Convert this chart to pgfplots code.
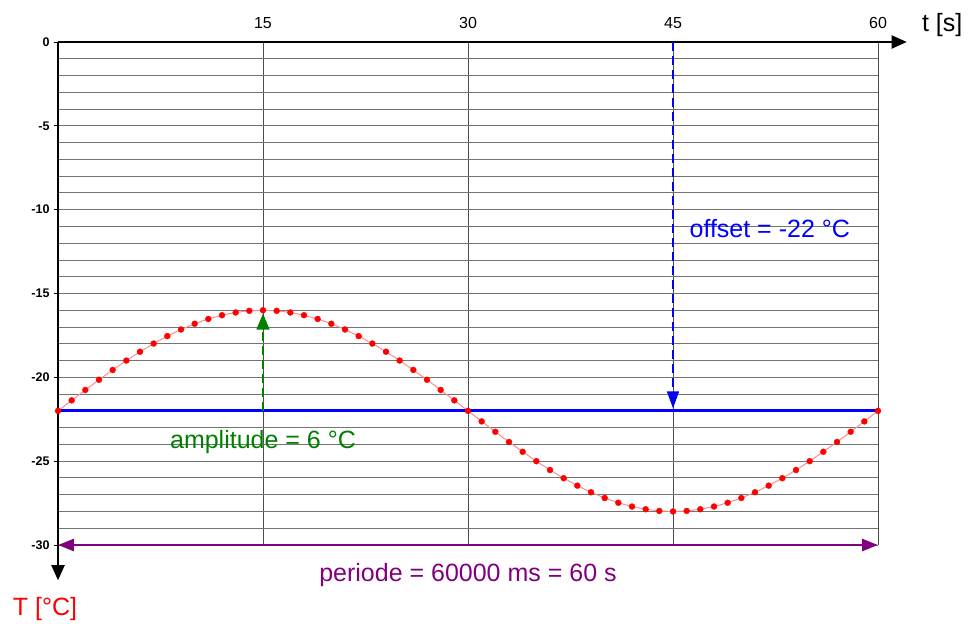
\documentclass[border=0pt]{standalone}
\usepackage{fontspec}
\setmainfont{Liberation Sans}
\usepackage{pgfplots}
\pgfplotsset{compat=1.18}
\usepackage{pgfplotstable}
\usetikzlibrary{arrows.meta,calc}
\definecolor{offblue}{HTML}{0000FF}
\definecolor{ampgreen}{HTML}{008000}
\definecolor{perpurple}{HTML}{800080}

% T = -22 + 6 sin(2 pi t / 60), sampled every second
\pgfplotstableread{
t y
0 -22.000
1 -21.373
2 -20.753
3 -20.146
4 -19.560
5 -19.000
6 -18.473
7 -17.985
8 -17.541
9 -17.146
10 -16.804
11 -16.519
12 -16.294
13 -16.131
14 -16.033
15 -16.000
16 -16.033
17 -16.131
18 -16.294
19 -16.519
20 -16.804
21 -17.146
22 -17.541
23 -17.985
24 -18.473
25 -19.000
26 -19.560
27 -20.146
28 -20.753
29 -21.373
30 -22.000
31 -22.627
32 -23.247
33 -23.854
34 -24.440
35 -25.000
36 -25.527
37 -26.015
38 -26.459
39 -26.854
40 -27.196
41 -27.481
42 -27.706
43 -27.869
44 -27.967
45 -28.000
46 -27.967
47 -27.869
48 -27.706
49 -27.481
50 -27.196
51 -26.854
52 -26.459
53 -26.015
54 -25.527
55 -25.000
56 -24.440
57 -23.854
58 -23.247
59 -22.627
60 -22.000
}\sine

\newcommand{\annfont}{\fontsize{25bp}{30bp}\selectfont}

\begin{document}
\begin{tikzpicture}
\begin{axis}[
    width=820bp, height=503bp, scale only axis,
    xmin=0, xmax=60, ymin=-30, ymax=0,
    axis x line*=top, axis y line*=left, axis line style={draw=none},
    xtick={15,30,45,60}, ytick={0,-5,...,-30}, minor y tick num=4,
    xmajorgrids, ymajorgrids, yminorgrids,
    major x grid style={black!70, line width=0.9bp},
    major y grid style={black!55, line width=0.9bp},
    minor y grid style={black!55, line width=0.9bp},
    xtick style={draw=none}, ytick style={black, line width=0.8bp},
    major tick length=4bp, minor tick length=0pt, tick align=outside,
    /pgf/number format/assume math mode=true,
    x tick label style={font=\fontsize{16bp}{19bp}\selectfont, yshift=6bp},
    y tick label style={font=\bfseries\fontsize{12.5bp}{15bp}\selectfont, xshift=-1bp},
    clip=false]
  \addplot[offblue, line width=3bp] coordinates {(0,-22) (60,-22)};
  \addplot[red!45, line width=1bp, mark=*, mark size=3bp,
           mark options={draw=red, fill=red, line width=0.3bp}] table[x=t, y=y] {\sine};

  \coordinate (SW) at (rel axis cs:0,0);
  \coordinate (NE) at (rel axis cs:1,1);

  % axes with arrows
  \draw[black, line width=2bp, -{Triangle[length=15bp,width=13bp]}] (axis cs:0,0) -- (axis cs:62.1,0);
  \draw[black, line width=2bp, -{Triangle[length=15bp,width=13bp]}] (axis cs:0,0) -- (axis cs:0,-32.1);

  % annotations
  \draw[offblue, line width=1.5bp, dash pattern=on 9bp off 5bp, -{Triangle[length=17bp,width=12bp]}]
    (axis cs:45,0) -- (axis cs:45,-21.85);
  \draw[ampgreen, line width=1.5bp, dash pattern=on 9bp off 5bp, -{Triangle[length=16bp,width=13bp]}]
    (axis cs:15,-22) -- (axis cs:15,-16.2);
  \draw[perpurple, line width=2.5bp, {Triangle[length=16bp,width=12bp]}-{Triangle[length=16bp,width=12bp]}]
    (axis cs:0,-30) -- (axis cs:60,-30);

  \node[offblue, anchor=west, inner sep=0pt, font=\annfont] at (axis cs:46.2,-11.1) {offset = -22 °C};
  \node[ampgreen, inner sep=0pt, font=\annfont] at (axis cs:15,-23.85) {amplitude = 6 °C};
  \node[perpurple, inner sep=0pt, font=\annfont] at (axis cs:30,-31.78) {periode = 60000 ms = 60 s};
  \node[black, inner sep=0pt, font=\annfont] at (axis cs:64.7,1.0) {t [s]};
  \node[red, inner sep=0pt, font=\annfont] at (axis cs:-0.95,-33.8) {T [°C]};
\end{axis}
\pgfresetboundingbox
\path ($(SW)+(-58bp,-78bp)$) rectangle ($(NE)+(90bp,42bp)$);
\end{tikzpicture}
\end{document}
